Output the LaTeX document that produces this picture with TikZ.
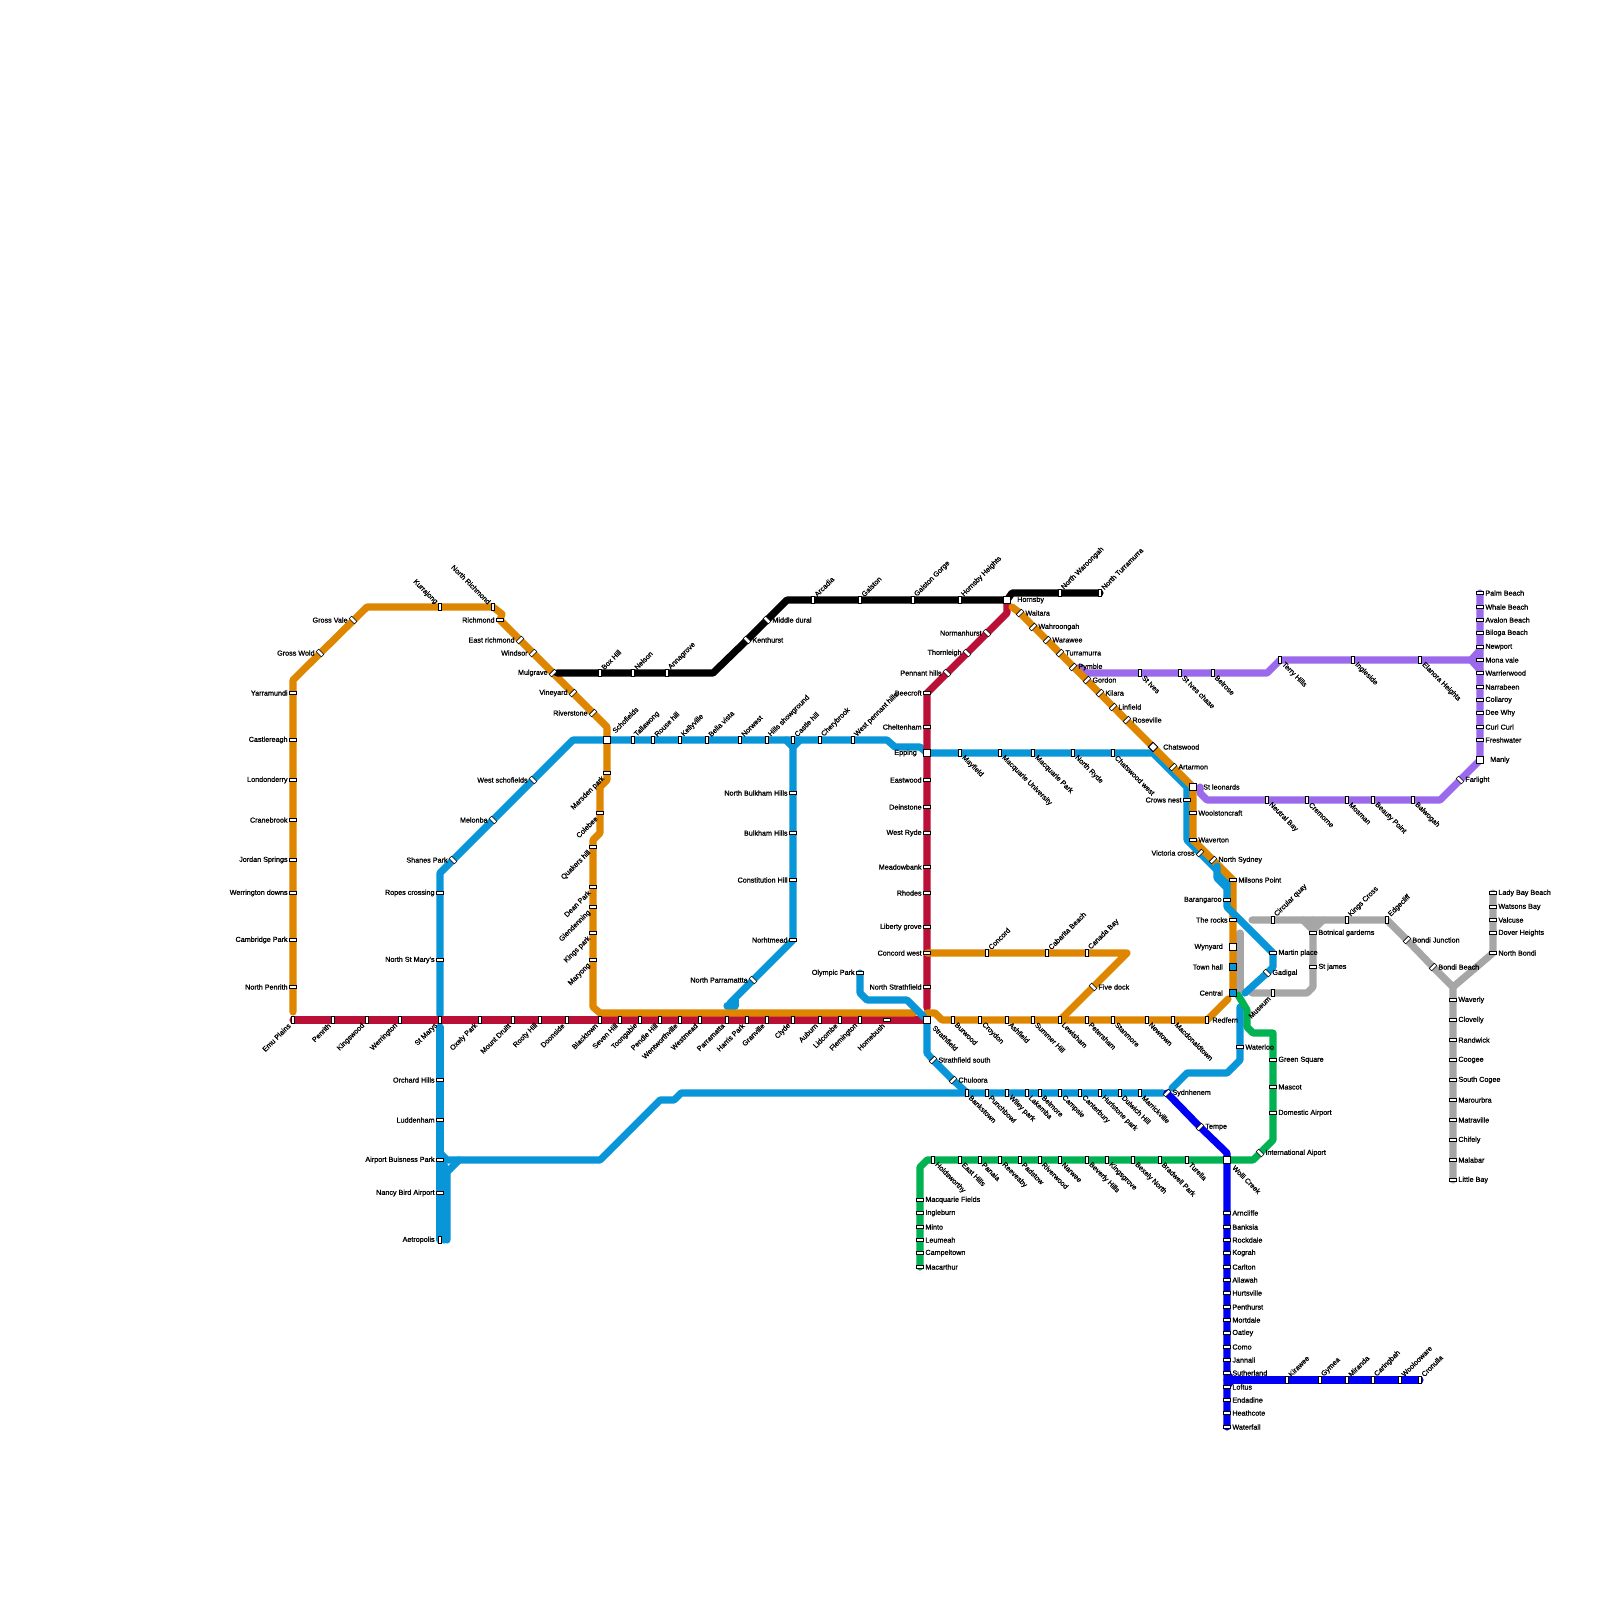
\documentclass[tikz,border=0pt]{standalone}
\usepackage{fontspec}
\setmainfont{Liberation Sans}
\newfontface\lblface{Liberation Sans}[FakeBold=1.0]
\usetikzlibrary{backgrounds}
\definecolor{corange}{HTML}{DF8600}
\definecolor{cred}{HTML}{BA0F37}
\definecolor{cblue}{HTML}{0996D8}
\definecolor{cpurple}{HTML}{9B69EB}
\definecolor{cgreen}{HTML}{00B251}
\definecolor{cdblue}{HTML}{0000F5}
\definecolor{cgrey}{HTML}{A6A6A6}
\tikzset{
 ln/.style={line width=7.1pt,line cap=round,line join=round},
 smark/.style={rectangle,draw=black,line width=0.55pt,fill=white,inner sep=0pt,minimum width=7.4pt,minimum height=3.4pt},
 sh/.style={smark},
 sv/.style={smark,minimum width=3.4pt,minimum height=7.4pt},
 sp/.style={smark,rotate=-45},
 sm/.style={smark,rotate=45},
 sq/.style={rectangle,draw=black,line width=0.95pt,fill=white,inner sep=0pt,minimum size=6.6pt},
 sqb/.style={sq,fill=cblue},
 sqd/.style={sq,rotate=45},
 lbl/.style={inner sep=0pt,font=\lblface\fontsize{7.2pt}{8pt}\selectfont,text=black},
 tL/.style={lbl,anchor=east,xshift=-5.2pt},
 tR/.style={lbl,anchor=west,xshift=5.2pt},
 tLL/.style={lbl,anchor=east,xshift=-10pt},
 tRR/.style={lbl,anchor=west,xshift=10pt},
 tNE/.style={lbl,anchor=west,xshift=2.5pt,yshift=4.5pt,rotate=45},
 tNW/.style={lbl,anchor=east,xshift=-3.5pt,yshift=4pt,rotate=-45},
 tSW/.style={lbl,anchor=east,xshift=-3.5pt,yshift=-4.5pt,rotate=45},
 tSE/.style={lbl,anchor=west,xshift=3pt,yshift=-3.5pt,rotate=-45},
 tNEb/.style={lbl,anchor=west,xshift=6.5pt,yshift=8pt,rotate=45},
 tSEb/.style={lbl,anchor=west,xshift=6.5pt,yshift=-6.5pt,rotate=-45},
}
\newcommand{\St}[6]{\node[#1] (#2) at (#3,#4) {}; \node[#5] (#2l) at (#2.center) {#6};}
\begin{document}
\begin{tikzpicture}[x=1pt,y=-1pt]
\useasboundingbox (0,0) rectangle (1600,1600);
% --- orange west
\St{sv}{emu}{293}{1020}{tSW}{Emu Plains}
\St{sh}{nph}{293}{987}{tL}{North Penrith}
\St{sh}{cam}{293}{940}{tL}{Cambridge Park}
\St{sh}{wed}{293}{893}{tL}{Werrington downs}
\St{sh}{jor}{293}{860}{tL}{Jordan Springs}
\St{sh}{crb}{293}{820}{tL}{Cranebrook}
\St{sh}{lon}{293}{780}{tL}{Londonderry}
\St{sh}{cas}{293}{740}{tL}{Castlereagh}
\St{sh}{yar}{293}{693}{tL}{Yarramundi}
\St{sp}{gwo}{320}{653}{tL}{Gross Wold}
\St{sp}{gva}{353}{620}{tL}{Gross Vale}
\St{sv}{kur}{440}{607}{tNW}{Kurrajong}
\St{sv}{nri}{493}{607}{tNW}{North Richmond}
\St{sh}{ric}{500}{620}{tL}{Richmond}
\St{sm}{eri}{520}{640}{tL}{East richmond}
\St{sm}{win}{533}{653}{tL}{Windsor}
\St{sm}{mul}{553}{673}{tL}{Mulgrave}
\St{sm}{vin}{573}{693}{tL}{Vineyard}
\St{sm}{riv}{593}{713}{tL}{Riverstone}
\St{sq}{sch}{607}{740}{tNEb}{Schofields}
\St{sh}{msd}{607}{773}{tSW}{Marsden park}
\St{sh}{col}{600}{813}{tSW}{Colebee}
\St{sh}{qua}{593}{847}{tSW}{Quakers hill}
\St{sh}{dea}{593}{887}{tSW}{Dean Park}
\St{sh}{gle}{593}{907}{tSW}{Glendenning}
\St{sh}{kip}{593}{933}{tSW}{Kings park}
\St{sh}{may}{593}{960}{tSW}{Maryong}
% --- red west
\St{sv}{pen}{333}{1020}{tSW}{Penrith}
\St{sv}{kiw}{367}{1020}{tSW}{Kingswood}
\St{sv}{wer}{400}{1020}{tSW}{Werrington}
\St{sv}{stm}{440}{1020}{tSW}{St Marys}
\St{sv}{oxe}{480}{1020}{tSW}{Oxely Park}
\St{sv}{mdr}{513}{1020}{tSW}{Mount Druitt}
\St{sv}{roo}{540}{1020}{tSW}{Rooty Hill}
\St{sv}{doo}{567}{1020}{tSW}{Doonside}
\St{sv}{bla}{600}{1020}{tSW}{Blacktown}
\St{sv}{sev}{620}{1020}{tSW}{Seven Hill}
\St{sv}{too}{640}{1020}{tSW}{Toongabie}
\St{sv}{pnd}{660}{1020}{tSW}{Pendle Hill}
\St{sv}{wen}{680}{1020}{tSW}{Wentworthville}
\St{sv}{wem}{700}{1020}{tSW}{Westmead}
\St{sv}{par}{727}{1020}{tSW}{Parramatta}
\St{sv}{har}{747}{1020}{tSW}{Harris Park}
\St{sv}{gra}{767}{1020}{tSW}{Granville}
\St{sv}{cly}{793}{1020}{tSW}{Clyde}
\St{sv}{aub}{820}{1020}{tSW}{Auburn}
\St{sv}{lid}{840}{1020}{tSW}{Lidcombe}
\St{sv}{fle}{860}{1020}{tSW}{Flemington}
\St{sh}{hom}{887}{1020}{tSW}{Homebush}
\St{sq}{str}{927}{1020}{tSEb}{Strathfield}
% --- red north
\St{sh}{nst}{927}{987}{tL}{North Strathfield}
\St{sh}{cow}{927}{953}{tL}{Concord west}
\St{sh}{lib}{927}{927}{tL}{Liberty grove}
\St{sh}{rho}{927}{893}{tL}{Rhodes}
\St{sh}{mea}{927}{867}{tL}{Meadowbank}
\St{sh}{wry}{927}{833}{tL}{West Ryde}
\St{sh}{dei}{927}{807}{tL}{Deinstone}
\St{sh}{eas}{927}{780}{tL}{Eastwood}
\St{sq}{epp}{927}{753}{tLL}{Epping}
\St{sh}{che}{927}{727}{tL}{Cheltenham}
\St{sh}{bee}{927}{693}{tL}{Beecroft}
\St{sp}{pnh}{947}{673}{tL}{Pennant hills}
\St{sp}{tho}{967}{653}{tL}{Thornleigh}
\St{sp}{nor}{987}{633}{tL}{Normanhurst}
\St{sq}{hor}{1007}{600}{tRR}{Hornsby}
% --- black
\St{sv}{box}{600}{673}{tNE}{Box Hill}
\St{sv}{nel}{633}{673}{tNE}{Nelson}
\St{sv}{ann}{667}{673}{tNE}{Annagrove}
\St{sp}{ken}{747}{640}{tR}{Kenthurst}
\St{sp}{mdu}{767}{620}{tR}{Middle dural}
\St{sv}{arc}{813}{600}{tNE}{Arcadia}
\St{sv}{gal}{860}{600}{tNE}{Galston}
\St{sv}{gag}{913}{600}{tNE}{Galston Gorge}
\St{sv}{hoh}{960}{600}{tNE}{Hornsby Heights}
\St{sv}{nwa}{1060}{593}{tNE}{North Waroongah}
\St{sv}{ntu}{1100}{593}{tNE}{North Turramurra}
% --- blue west / main
\St{sp}{dum}{453}{860}{tL}{Shanes Park}
\St{sp}{mel}{493}{820}{tL}{Melonba}
\St{sp}{wsc}{533}{780}{tL}{West schofields}
\St{sh}{rop}{440}{893}{tL}{Ropes crossing}
\St{sh}{nsm}{440}{960}{tL}{North St Mary's}
\St{sv}{tal}{633}{740}{tNE}{Tallawong}
\St{sv}{rou}{653}{740}{tNE}{Rouse hill}
\St{sv}{kel}{680}{740}{tNE}{Kellyville}
\St{sv}{bel}{707}{740}{tNE}{Bella vista}
\St{sv}{nwe}{740}{740}{tNE}{Norwest}
\St{sv}{hil}{767}{740}{tNE}{Hills showground}
\St{sv}{cah}{793}{740}{tNE}{Castle hill}
\St{sv}{chb}{820}{740}{tNE}{Cherybrook}
\St{sv}{wph}{853}{740}{tNE}{West pennant hills}
\St{sv}{mfd}{960}{753}{tSE}{Mayfield}
\St{sv}{mqu}{1000}{753}{tSE}{Macquarie University}
\St{sv}{mqp}{1033}{753}{tSE}{Macquarie Park}
\St{sv}{nry}{1073}{753}{tSE}{North Ryde}
\St{sv}{chw}{1113}{753}{tSE}{Chatswood west}
\St{sh}{crn}{1187}{800}{tL}{Crows nest}
\St{sm}{vic}{1200}{853}{tL}{Victoria cross}
\St{sh}{bar}{1227}{900}{tL}{Barangaroo}
\St{sh}{mar}{1273}{953}{tR}{Martin place}
\St{sp}{gad}{1267}{973}{tR}{Gadigal}
% --- blue north-west branch
\St{sh}{nbh}{793}{793}{tL}{North Bulkham Hills}
\St{sh}{buh}{793}{833}{tL}{Bulkham Hills}
\St{sh}{cth}{793}{880}{tL}{Constitution Hill}
\St{sh}{nom}{793}{940}{tL}{Norhtmead}
\St{sp}{npa}{753}{980}{tL}{North Parramattta}
\St{sh}{oly}{860}{973}{tL}{Olympic Park}
% --- blue south-west
\St{sh}{orc}{440}{1080}{tL}{Orchard Hills}
\St{sh}{lud}{440}{1120}{tL}{Luddenham}
\St{sh}{abp}{440}{1160}{tL}{Airport Buisness Park}
\St{sh}{nba}{440}{1193}{tL}{Nancy Bird Airport}
\St{sv}{aet}{440}{1240}{tL}{Aetropolis}
\St{sm}{ssu}{933}{1060}{tR}{Strathfield south}
\St{sm}{chu}{953}{1080}{tR}{Chuloora}
\St{sv}{ban}{967}{1093}{tSE}{Bankstown}
\St{sv}{pun}{987}{1093}{tSE}{Punchbowl}
\St{sv}{wil}{1007}{1093}{tSE}{Wiley park}
\St{sv}{lak}{1027}{1093}{tSE}{Lakemba}
\St{sv}{blm}{1040}{1093}{tSE}{Belmore}
\St{sv}{cps}{1060}{1093}{tSE}{Campsie}
\St{sv}{cnt}{1080}{1093}{tSE}{Canterbury}
\St{sv}{hur}{1100}{1093}{tSE}{Hurlstone park}
\St{sv}{dul}{1120}{1093}{tSE}{Dulwich Hill}
\St{sv}{mrk}{1140}{1093}{tSE}{Marrickville}
\St{sh}{wat}{1240}{1047}{tR}{Waterloo}
% --- orange east
\St{sv}{bur}{953}{1020}{tSE}{Burwood}
\St{sv}{cro}{980}{1020}{tSE}{Croydon}
\St{sv}{ash}{1007}{1020}{tSE}{Ashfield}
\St{sv}{sum}{1033}{1020}{tSE}{Summer Hill}
\St{sv}{lew}{1060}{1020}{tSE}{Lewisham}
\St{sv}{pet}{1087}{1020}{tSE}{Petersham}
\St{sv}{sta}{1113}{1020}{tSE}{Stanmore}
\St{sv}{new}{1147}{1020}{tSE}{Newtown}
\St{sv}{mcd}{1173}{1020}{tSE}{Macdonaldtown}
\St{sv}{red}{1207}{1020}{tR}{Redfern}
\St{sp}{fiv}{1093}{987}{tR}{Five dock}
\St{sv}{cnc}{987}{953}{tNE}{Concord}
\St{sv}{cab}{1047}{953}{tNE}{Cabarita Beach}
\St{sv}{cnb}{1087}{953}{tNE}{Canada Bay}
% --- orange north
\St{sm}{wai}{1020}{613}{tR}{Waitara}
\St{sm}{wah}{1033}{627}{tR}{Wahroongah}
\St{sm}{wwe}{1047}{640}{tR}{Warawee}
\St{sm}{tur}{1060}{653}{tR}{Turramurra}
\St{sm}{pym}{1073}{667}{tR}{Pymble}
\St{sm}{gor}{1087}{680}{tR}{Gordon}
\St{sm}{kil}{1100}{693}{tR}{Kilara}
\St{sm}{lin}{1113}{707}{tR}{Linfield}
\St{sm}{ros}{1127}{720}{tR}{Roseville}
\St{sqd}{chs}{1153}{747}{tRR}{Chatswood}
\St{sm}{art}{1173}{767}{tR}{Artarmon}
\St{sq}{stl}{1193}{787}{tRR}{St leonards}
\St{sh}{woo}{1193}{813}{tR}{Woolstoncraft}
\St{sh}{wav}{1193}{840}{tR}{Waverton}
\St{sm}{nsy}{1213}{860}{tR}{North Sydney}
\St{sh}{mil}{1233}{880}{tR}{Milsons Point}
\St{sh}{trk}{1233}{920}{tL}{The rocks}
\St{sq}{wyn}{1233}{947}{tLL}{Wynyard}
\St{sqb}{tow}{1233}{967}{tLL}{Town hall}
\St{sqb}{cen}{1233}{993}{tLL}{Central}
% --- purple
\St{sv}{siv}{1140}{673}{tSE}{St Ives}
\St{sv}{sic}{1180}{673}{tSE}{St Ives chase}
\St{sv}{brs}{1213}{673}{tSE}{Belrose}
\St{sv}{ter}{1280}{660}{tSE}{Terry Hills}
\St{sv}{ing}{1353}{660}{tSE}{Ingleside}
\St{sv}{ela}{1420}{660}{tSE}{Elanora Heights}
\St{sh}{pal}{1480}{593}{tR}{Palm Beach}
\St{sh}{wha}{1480}{607}{tR}{Whale Beach}
\St{sh}{ava}{1480}{620}{tR}{Avalon Beach}
\St{sh}{bil}{1480}{633}{tR}{Biloga Beach}
\St{sh}{npt}{1480}{647}{tR}{Newport}
\St{sh}{mon}{1480}{660}{tR}{Mona vale}
\St{sh}{wrr}{1480}{673}{tR}{Warrierwood}
\St{sh}{nar}{1480}{687}{tR}{Narrabeen}
\St{sh}{cll}{1480}{700}{tR}{Collaroy}
\St{sh}{dee}{1480}{713}{tR}{Dee Why}
\St{sh}{cur}{1480}{727}{tR}{Curl Curl}
\St{sh}{fre}{1480}{740}{tR}{Freshwater}
\St{sq}{man}{1480}{760}{tRR}{Manly}
\St{sp}{far}{1460}{780}{tR}{Farlight}
\St{sv}{bal}{1413}{800}{tSE}{Balwogah}
\St{sv}{bea}{1373}{800}{tSE}{Beauty Point}
\St{sv}{mos}{1347}{800}{tSE}{Mosman}
\St{sv}{cre}{1307}{800}{tSE}{Cremorne}
\St{sv}{neu}{1267}{800}{tSE}{Neutral Bay}
% --- green
\St{sh}{mfi}{920}{1200}{tR}{Macquarie Fields}
\St{sh}{igb}{920}{1213}{tR}{Ingleburn}
\St{sh}{min}{920}{1227}{tR}{Minto}
\St{sh}{leu}{920}{1240}{tR}{Leumeah}
\St{sh}{cpb}{920}{1253}{tR}{Campeltown}
\St{sh}{mac}{920}{1267}{tR}{Macarthur}
\St{sv}{hol}{933}{1160}{tSE}{Holdsworthy}
\St{sv}{eah}{960}{1160}{tSE}{East Hills}
\St{sv}{pna}{980}{1160}{tSE}{Panaia}
\St{sv}{ree}{1000}{1160}{tSE}{Reevesby}
\St{sv}{pad}{1020}{1160}{tSE}{Padstow}
\St{sv}{rvw}{1040}{1160}{tSE}{Riverwood}
\St{sv}{nrw}{1060}{1160}{tSE}{Narwee}
\St{sv}{bev}{1087}{1160}{tSE}{Beverly Hills}
\St{sv}{kgr}{1107}{1160}{tSE}{Kingsgrove}
\St{sv}{bxn}{1133}{1160}{tSE}{Bexely North}
\St{sv}{brd}{1160}{1160}{tSE}{Bradwell Park}
\St{sv}{tul}{1187}{1160}{tSE}{Turella}
\St{sq}{wol}{1227}{1160}{tSEb}{Wolli Creek}
\St{sp}{int}{1260}{1153}{tR}{International Aiport}
\St{sh}{dom}{1273}{1113}{tR}{Domestic Airport}
\St{sh}{msc}{1273}{1087}{tR}{Mascot}
\St{sh}{grs}{1273}{1060}{tR}{Green Square}
% --- dark blue
\St{sm}{syd}{1167}{1093}{tR}{Sydnhenem}
\St{sm}{tem}{1200}{1127}{tR}{Tempe}
\St{sh}{anc}{1227}{1213}{tR}{Arncliffe}
\St{sh}{bks}{1227}{1227}{tR}{Banksia}
\St{sh}{rok}{1227}{1240}{tR}{Rockdale}
\St{sh}{kog}{1227}{1253}{tR}{Kograh}
\St{sh}{car}{1227}{1267}{tR}{Carlton}
\St{sh}{all}{1227}{1280}{tR}{Allawah}
\St{sh}{hrs}{1227}{1293}{tR}{Hurtsville}
\St{sh}{phs}{1227}{1307}{tR}{Penthurst}
\St{sh}{mor}{1227}{1320}{tR}{Mortdale}
\St{sh}{oat}{1227}{1333}{tR}{Oatley}
\St{sh}{com}{1227}{1347}{tR}{Como}
\St{sh}{jan}{1227}{1360}{tR}{Jannali}
\St{sh}{sut}{1227}{1373}{tR}{Sutherland}
\St{sh}{lof}{1227}{1387}{tR}{Loftus}
\St{sh}{end}{1227}{1400}{tR}{Endadine}
\St{sh}{hea}{1227}{1413}{tR}{Heathcote}
\St{sh}{wfl}{1227}{1427}{tR}{Waterfall}
\St{sv}{kir}{1287}{1380}{tNE}{Kirawee}
\St{sv}{gym}{1320}{1380}{tNE}{Gymea}
\St{sv}{mir}{1347}{1380}{tNE}{Miranda}
\St{sv}{crg}{1373}{1380}{tNE}{Caringbah}
\St{sv}{wlw}{1400}{1380}{tNE}{Woolooware}
\St{sv}{cnl}{1420}{1380}{tNE}{Cronulla}
% --- grey
\St{sv}{cir}{1273}{920}{tNE}{Circular quay}
\St{sv}{kcr}{1347}{920}{tNE}{Kings Cross}
\St{sv}{edg}{1387}{920}{tNE}{Edgecliff}
\St{sh}{bot}{1313}{933}{tR}{Botnical garderns}
\St{sh}{stj}{1313}{967}{tR}{St james}
\St{sv}{mus}{1273}{993}{tSW}{Museum}
\St{sm}{bju}{1407}{940}{tR}{Bondi Junction}
\St{sm}{bbe}{1433}{967}{tR}{Bondi Beach}
\St{sh}{way}{1453}{1000}{tR}{Waverly}
\St{sh}{clo}{1453}{1020}{tR}{Clovelly}
\St{sh}{ran}{1453}{1040}{tR}{Randwick}
\St{sh}{coo}{1453}{1060}{tR}{Coogee}
\St{sh}{sco}{1453}{1080}{tR}{South Cogee}
\St{sh}{mrb}{1453}{1100}{tR}{Marourbra}
\St{sh}{mat}{1453}{1120}{tR}{Matraville}
\St{sh}{chi}{1453}{1140}{tR}{Chifely}
\St{sh}{mal}{1453}{1160}{tR}{Malabar}
\St{sh}{lit}{1453}{1180}{tR}{Little Bay}
\St{sh}{nbo}{1493}{953}{tR}{North Bondi}
\St{sh}{dov}{1493}{933}{tR}{Dover Heights}
\St{sh}{val}{1493}{920}{tR}{Valcuse}
\St{sh}{wts}{1493}{907}{tR}{Watsons Bay}
\St{sh}{lad}{1493}{893}{tR}{Lady Bay Beach}
\begin{pgfonlayer}{background}
\fill[white] (0,0) rectangle (1600,1600);
% grey
\draw[ln,cgrey] (1240,933) -- (1240,990);
\draw[ln,cgrey] (1252,920) -- (cir.center) -- (kcr.center) -- (edg.center) -- (bju.center) -- (bbe.center) -- (1453,987) -- (way.center) -- (lit.center);
\draw[ln,cgrey] (1453,987) -- (nbo.center) -- (lad.center);
\draw[ln,cgrey] (1313,920) -- (bot.center) -- (stj.center) -- (1313,987) -- (1307,993) -- (mus.center) -- (1252,993);
\draw[ln,cgrey] (1303,920) -- (1313,930) -- (1323,920);
% blue main
\draw[ln,cblue] (440,1015) -- (nsm.center) -- (rop.center) -- (440,873) -- (dum.center) -- (mel.center) -- (wsc.center) -- (573,740) -- (sch.center) -- (wph.center) -- (887,740) -- (895,747) -- (920,747) -- (epp.center) -- (chw.center) -- (1153,753) -- (1187,787) -- (crn.center) -- (1187,840) -- (vic.center) -- (1217,870) -- (1227,883);
\draw[ln,cblue] (cah.center) -- (nbh.center) -- (nom.center) -- (npa.center) -- (730,1003);
\draw[ln,cblue] (786,740) -- (793,747) -- (800,740);
\draw[ln,cblue] (735,1000) -- (735,1006) -- (727,1006);
\draw[ln,cblue] (str.center) -- (927,1053) -- (ssu.center) -- (chu.center) -- (965,1091) -- (ban.center);
\draw[ln,cblue] (440,1027) -- (orc.center) -- (aet.center);
\draw[ln,cblue] (444,1165) -- (444,1240);
\draw[ln,cblue] (447,1240) -- (447,1172) -- (459,1160);
\draw[ln,cblue] (440,1153) -- (447,1160) -- (600,1160) -- (660,1100) -- (674,1100) -- (681,1093) -- (ban.center) -- (mrk.center) -- (1163,1093);
\draw[ln,cblue] (1240,1007) -- (wat.center) -- (1240,1060) -- (1227,1073) -- (1187,1073) -- (1172,1088);
% purple
\draw[ln,cpurple] (1080,667) -- (1087,673) -- (siv.center) -- (brs.center) -- (1267,673) -- (ter.center) -- (ela.center) -- (mon.center);
\draw[ln,cpurple] (pal.center) -- (man.center) -- (far.center) -- (1440,800) -- (bal.center) -- (neu.center) -- (1207,800) -- (1200,793) -- (1200,787);
\draw[ln,cpurple] (1480,650) -- (1471,660) -- (1480,670);
% red
\draw[ln,cred] (emu.center) -- (str.center);
\draw[ln,cred] (hor.center) -- (1007,613) -- (bee.center) -- (epp.center) -- (927,1008);
% orange
\draw[ln,corange] (293,1012) -- (yar.center) -- (293,680) -- (367,607) -- (nri.center) -- (502,614) -- (ric.center) -- (riv.center) -- (607,727) -- (sch.center) -- (msd.center) -- (607,780) -- (600,787) -- (col.center) -- (600,833) -- (593,840) -- (qua.center) -- (593,1007) -- (600,1013) -- (914,1013);
\draw[ln,corange] (927,1013) -- (935,1013) -- (942,1020) -- (bur.center) -- (lew.center) -- (red.center) -- (1228,999);
\draw[ln,corange] (lew.center) -- (1127,953) -- (cnb.center) -- (cow.center);
\draw[ln,corange] (1012,607) -- (wai.center) -- (chs.center) -- (stl.center) -- (wav.center) -- (nsy.center) -- (mil.center) -- (cen.center);
% blue over orange
\draw[ln,cblue] (oly.center) -- (860,993) -- (867,1000) -- (907,1000) -- (924,1017);
\draw[ln,cblue] (1217,866) -- (1217,878) -- (1227,888);
\draw[ln,cblue] (1227,883) -- (bar.center) -- (1227,907) -- (mar.center) -- (1273,967) -- (gad.center) -- (1245,993);
% green
\draw[ln,cgreen] (mac.center) -- (920,1167) -- (927,1160) -- (wol.center) -- (1253,1160) -- (int.center) -- (1273,1140) -- (grs.center) -- (1273,1033) -- (1253,1033) -- (1247,1027) -- (1247,1010) -- (1238,995);
% black
\draw[ln,black] (557,673) -- (box.center) -- (713,673) -- (ken.center) -- (787,600) -- (hor.center) -- (1012,593) -- (ntu.center);
% dark blue
\draw[ln,cdblue] (syd.center) -- (tem.center) -- (1227,1153) -- (wol.center) -- (wfl.center);
\draw[ln,cdblue] (1227,1380) -- (cnl.center);
\draw[ln,cdblue] (1228,1375) -- (1232,1380) -- (1228,1385);
\end{pgfonlayer}
\end{tikzpicture}
\end{document}
